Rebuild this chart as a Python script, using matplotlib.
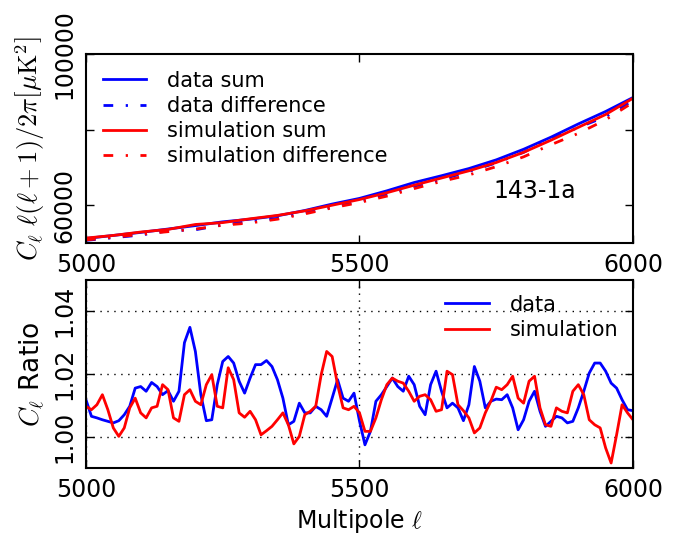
import numpy as np
import matplotlib
matplotlib.use("Agg")
import matplotlib.pyplot as plt

plt.rcParams['mathtext.fontset'] = 'cm'
plt.rcParams['font.family'] = ['DejaVu Sans']

# top panel: spectra read every 50 multipoles
ell_top = np.arange(5000, 6001, 50)
data_sum = [51200, 52000, 52800, 53700, 54600, 55600, 56300, 57200, 58600, 60300, 61800,
            63800, 66000, 67800, 69700, 72000, 74800, 78000, 81500, 84800, 88500]
data_diff = [50700, 51400, 52100, 53200, 53500, 54800, 55700, 56500, 58000, 59500, 61000,
             62900, 65000, 66800, 68900, 71200, 74000, 77500, 80600, 83400, 87700]
sim_sum = [51300, 52000, 52900, 53600, 54900, 55400, 56400, 57300, 58500, 60000, 61500,
           63300, 65300, 67200, 69100, 71300, 74000, 77200, 80600, 84000, 88300]
sim_diff = [50800, 51500, 52300, 53000, 53700, 54700, 55300, 56300, 57700, 59300, 60700,
            62400, 64400, 66300, 68000, 70200, 72800, 76000, 79000, 82600, 87200]

# bottom panel: ratios read every 10 multipoles
ell_ratio = np.arange(5000, 6001, 10)
data_ratio = [
    1.0118, 1.0065, 1.0060, 1.0054, 1.0049, 1.0044, 1.0051, 1.0070, 1.0097, 1.0155,
    1.0160, 1.0145, 1.0173, 1.0160, 1.0134, 1.0147, 1.0113, 1.0145, 1.0300, 1.0349,
    1.0272, 1.0134, 1.0051, 1.0054, 1.0166, 1.0240, 1.0256, 1.0235, 1.0177, 1.0139,
    1.0187, 1.0230, 1.0230, 1.0243, 1.0224, 1.0182, 1.0123, 1.0038, 1.0049, 1.0107,
    1.0076, 1.0076, 1.0097, 1.0086, 1.0065, 1.0123, 1.0182, 1.0123, 1.0113, 1.0139,
    1.0050, 0.9974, 1.0017, 1.0113, 1.0134, 1.0160, 1.0187, 1.0160, 1.0145, 1.0193,
    1.0166, 1.0097, 1.0070, 1.0166, 1.0209, 1.0145, 1.0092, 1.0107, 1.0092, 1.0051,
    1.0102, 1.0224, 1.0177, 1.0092, 1.0113, 1.0120, 1.0118, 1.0134, 1.0092, 1.0022,
    1.0054, 1.0113, 1.0145, 1.0081, 1.0033, 1.0049, 1.0065, 1.0060, 1.0044, 1.0049,
    1.0092, 1.0145, 1.0203, 1.0235, 1.0235, 1.0209, 1.0171, 1.0155, 1.0118, 1.0086,
    1.0083]
sim_ratio = [
    1.0097, 1.0086, 1.0102, 1.0134, 1.0086, 1.0028, 1.0001, 1.0028, 1.0092, 1.0123,
    1.0076, 1.0060, 1.0092, 1.0097, 1.0166, 1.0150, 1.0060, 1.0049, 1.0134, 1.0150,
    1.0113, 1.0102, 1.0166, 1.0198, 1.0097, 1.0092, 1.0220, 1.0182, 1.0076, 1.0062,
    1.0081, 1.0054, 1.0006, 1.0019, 1.0033, 1.0054, 1.0076, 1.0038, 0.9977, 1.0001,
    1.0070, 1.0081, 1.0097, 1.0198, 1.0272, 1.0256, 1.0166, 1.0092, 1.0086, 1.0097,
    1.0076, 1.0017, 1.0017, 1.0060, 1.0118, 1.0166, 1.0187, 1.0177, 1.0171, 1.0145,
    1.0113, 1.0129, 1.0134, 1.0118, 1.0081, 1.0086, 1.0209, 1.0198, 1.0102, 1.0083,
    1.0060, 1.0012, 1.0028, 1.0076, 1.0113, 1.0158, 1.0150, 1.0166, 1.0193, 1.0123,
    1.0107, 1.0177, 1.0193, 1.0092, 1.0038, 1.0033, 1.0092, 1.0081, 1.0076, 1.0145,
    1.0166, 1.0134, 1.0054, 1.0038, 1.0028, 0.9964, 0.9916, 1.0006, 1.0102, 1.0076,
    1.0054]

dashdot = (0, (3.5, 4.5, 0.8, 4.5))

fig = plt.figure(figsize=(6.95, 5.35), dpi=100)
ax1 = fig.add_axes([0.1237, 0.5458, 0.7871, 0.3532])
ax2 = fig.add_axes([0.1237, 0.1252, 0.7871, 0.3514])

ax1.plot(ell_top, data_sum, color='b', lw=2, label='data sum')
ax1.plot(ell_top, data_diff, color='b', lw=2, ls=dashdot, label='data difference')
ax1.plot(ell_top, sim_sum, color='r', lw=2, label='simulation sum')
ax1.plot(ell_top, sim_diff, color='r', lw=2, ls=dashdot, label='simulation difference')
ax1.set_xlim(5000, 6000)
ax1.set_ylim(50000, 100000)
ax1.set_xticks([5000, 5500, 6000])
ax1.set_yticks([60000, 80000, 100000])
ax1.set_yticklabels(['60000', '', '100000'])
ax1.set_ylabel(r'$C_\ell\ \ell(\ell+1)/2\pi\left[\mu\mathrm{K}^2\right]$', fontsize=19, labelpad=4)
ax1.text(0.745, 0.24, '143-1a', transform=ax1.transAxes, fontsize=17)
ax1.legend(loc='upper left', frameon=False, fontsize=15, handlelength=2.1,
           handletextpad=1.0, labelspacing=0.25, borderaxespad=0.4)

ax2.plot(ell_ratio, data_ratio, color='b', lw=2, label='data')
ax2.plot(ell_ratio, sim_ratio, color='r', lw=2, label='simulation')
ax2.set_xlim(5000, 6000)
ax2.set_ylim(0.99, 1.05)
ax2.set_xticks([5000, 5500, 6000])
ax2.set_yticks([1.00, 1.02, 1.04])
ax2.set_yticklabels(['1.00', '1.02', '1.04'])
ax2.grid(True, color='k', ls=(0, (1, 4)), lw=1)
ax2.set_ylabel(r'$C_\ell$ Ratio', fontsize=19, labelpad=4)
ax2.set_xlabel(r'Multipole $\ell$', fontsize=17)
ax2.legend(loc='upper right', frameon=False, fontsize=15, handlelength=2.1,
           handletextpad=1.0, labelspacing=0.25, borderaxespad=0.3)

for ax in (ax1, ax2):
    ax.tick_params(direction='in', top=True, right=True, length=6, width=1,
                   labelsize=17, pad=7)
    ax.tick_params(axis='y', labelrotation=90)
    for lab in ax.get_yticklabels():
        lab.set_va('center')
    for s in ax.spines.values():
        s.set_linewidth(1.5)

fig.savefig('out.png', dpi=100)
